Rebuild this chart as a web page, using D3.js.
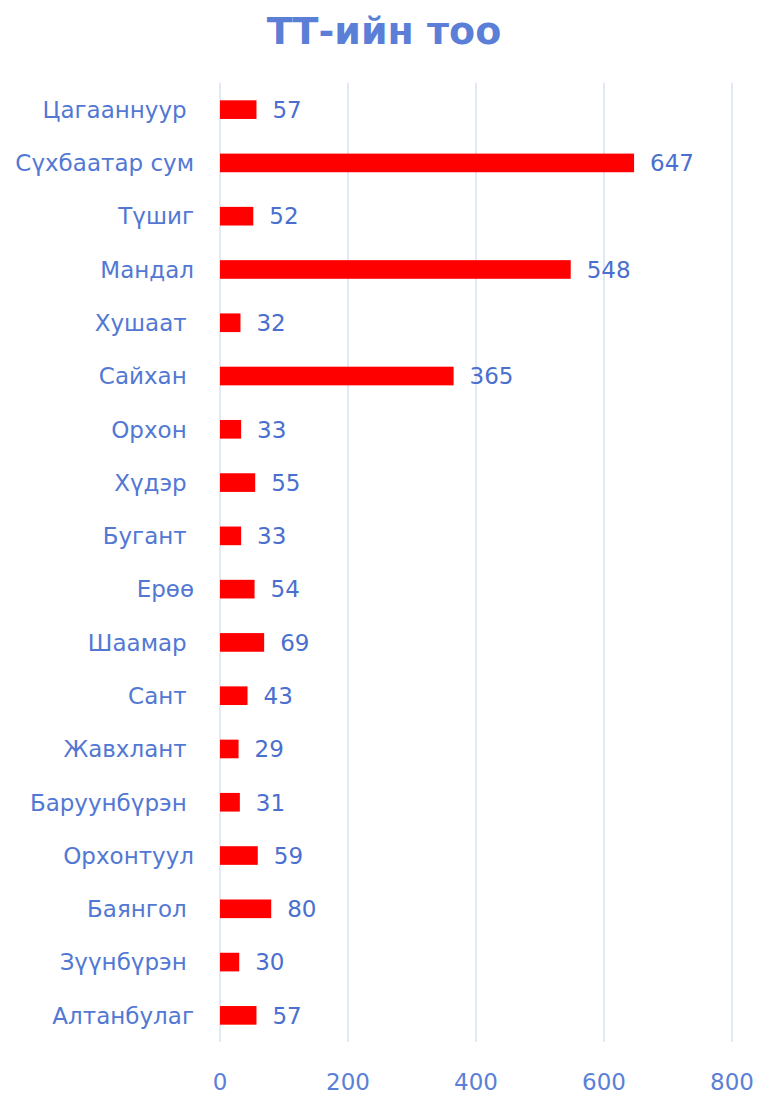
<!DOCTYPE html>
<html>
<head>
<meta charset="utf-8">
<script src="https://cdn.jsdelivr.net/npm/d3@7"></script>
<style>
  body { margin: 0; background: #fff; }
  text { font-family: "DejaVu Sans", Verdana, sans-serif; white-space: pre; }
</style>
</head>
<body>
<script>
// нэрс ба утгууд (зарим нэр хоосон зайгаар төгсдөг)
var categories = ["Цагааннуур ", "Сүхбаатар сум", "Түшиг", "Мандал", "Хушаат ", "Сайхан ", "Орхон ", "Хүдэр ", "Бугант ", "Ерөө", "Шаамар ", "Сант ", "Жавхлант ", "Баруунбүрэн ", "Орхонтуул", "Баянгол ", "Зүүнбүрэн ", "Алтанбулаг"];
var values = [57, 647, 52, 548, 32, 365, 33, 55, 33, 54, 69, 43, 29, 31, 59, 80, 30, 57];
var ticks = [0, 200, 400, 600, 800];
var title = "ТТ-ийн тоо";

var width = 757, height = 1094;
var margin = {top: 83, right: 25, bottom: 52, left: 220};

var svg = d3.select("body").append("svg")
  .attr("width", width)
  .attr("height", height);

var x = d3.scaleLinear().domain([0, 800]).range([margin.left, margin.left + 512]);
var y = d3.scaleBand().domain(categories).range([margin.top, height - margin.bottom]).paddingInner(0.65).paddingOuter(0.325);

// grid
svg.append("g").selectAll("line")
  .data(ticks)
  .join("line")
  .attr("x1", d => x(d)).attr("x2", d => x(d))
  .attr("y1", margin.top).attr("y2", height - margin.bottom)
  .attr("stroke", "#d9e1f2")
  .attr("stroke-width", 1.5);

svg.append("g").selectAll("text")
  .data(ticks)
  .join("text")
  .attr("x", d => x(d))
  .attr("y", 1090)
  .attr("text-anchor", "middle")
  .attr("fill", "#5b7fd6")
  .attr("font-size", 23)
  .text(d => d);

// bars
svg.append("g").selectAll("rect")
  .data(values)
  .join("rect")
  .attr("x", x(0))
  .attr("y", (d, i) => y(categories[i]))
  .attr("width", d => x(d) - x(0))
  .attr("height", y.bandwidth())
  .attr("fill", "#ff0000");

// value labels
svg.append("g").selectAll("text")
  .data(values)
  .join("text")
  .attr("x", d => x(d) + 16)
  .attr("y", (d, i) => y(categories[i]) + y.bandwidth() / 2)
  .attr("dy", "0.36em")
  .attr("fill", "#4a6fcf")
  .attr("font-size", 23)
  .text(d => d);

// category labels
svg.append("g").selectAll("text")
  .data(categories)
  .join("text")
  .attr("x", 194)
  .attr("y", d => y(d) + y.bandwidth() / 2)
  .attr("dy", "0.36em")
  .attr("text-anchor", "end")
  .attr("fill", "#5278d4")
  .attr("font-size", 23)
  .text(d => d);

svg.append("text")
  .attr("x", 384)
  .attr("y", 44)
  .attr("text-anchor", "middle")
  .attr("fill", "#5b7fd6")
  .attr("font-size", 38)
  .attr("font-weight", "bold")
  .text(title);
</script>
</body>
</html>
